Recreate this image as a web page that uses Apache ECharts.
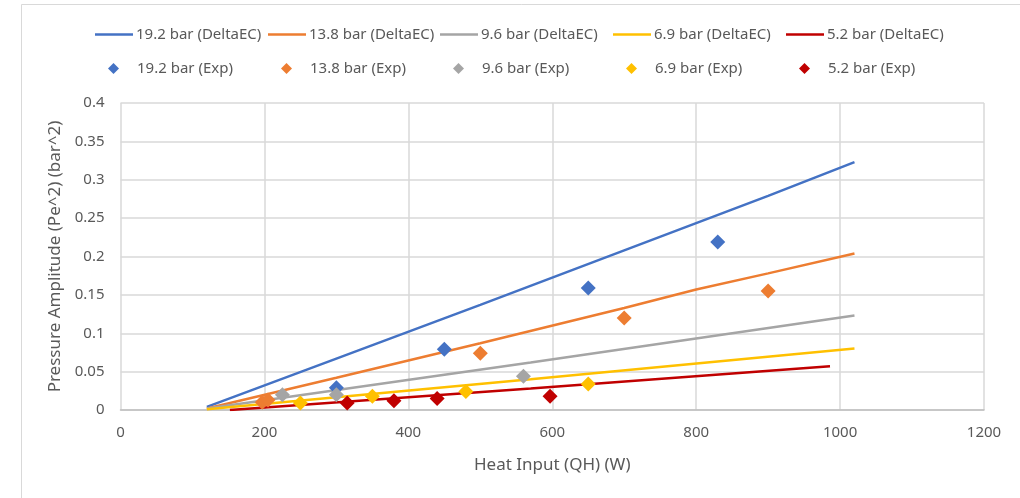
<!DOCTYPE html>
<html>
<head>
<meta charset="utf-8">
<script src="https://cdn.jsdelivr.net/npm/echarts@6/dist/echarts.min.js"></script>
<style>
  html, body { margin: 0; padding: 0; background: #fff; }
  #chart { width: 1020px; height: 498px; }
</style>
</head>
<body>
<div id="chart"></div>
<script>
// Pressure amplitude vs heat input: DeltaEC model curves and experimental points
const seriesNames = ['19.2 bar', '13.8 bar', '9.6 bar', '6.9 bar', '5.2 bar'];
const colors = ['#4472C4', '#ED7D31', '#A5A5A5', '#FFC000', '#C00000'];

// DeltaEC predictions [heat input W, Pe^2 bar^2]
const delta192 = [[120, 0.004], [300, 0.067], [500, 0.137], [700, 0.208], [900, 0.279], [1020, 0.323]];
const delta138 = [[120, 0.002], [300, 0.042], [500, 0.087], [700, 0.133], [800, 0.157], [900, 0.178], [1020, 0.204]];
const delta96 = [[120, 0.002], [570, 0.062], [1020, 0.123]];
const delta69 = [[120, 0.001], [570, 0.040], [1020, 0.080]];
const delta52 = [[152, 0.000], [570, 0.028], [986, 0.057]];

// Experimental measurements
const exp192 = [[300, 0.029], [450, 0.079], [650, 0.159], [830, 0.219]];
const exp138 = [[197, 0.010], [205, 0.013], [500, 0.074], [700, 0.120], [900, 0.155]];
const exp96 = [[225, 0.020], [300, 0.020], [560, 0.044]];
const exp69 = [[250, 0.009], [350, 0.018], [480, 0.024], [650, 0.034]];
const exp52 = [[315, 0.009], [380, 0.012], [440, 0.015], [597, 0.018]];

const xTicks = { min: 0, max: 1200, interval: 200 };
const yTicks = { min: 0, max: 0.4, interval: 0.05 };

const deltaData = [delta192, delta138, delta96, delta69, delta52];
const expData = [exp192, exp138, exp96, exp69, exp52];

const FONT = 'Noto Sans';
const TEXT = '#595959';
// plain stroke used as the legend key for the model lines
const LINE_ICON = 'path://M0,0H38V2.5H0Z';

const series = [];
deltaData.forEach((d, i) => {
  series.push({
    name: seriesNames[i] + ' (DeltaEC)',
    type: 'line',
    data: d,
    showSymbol: false,
    symbol: 'none',
    lineStyle: { color: colors[i], width: 2.5 },
    itemStyle: { color: colors[i] },
    z: 2
  });
});
expData.forEach((d, i) => {
  series.push({
    name: seriesNames[i] + ' (Exp)',
    type: 'scatter',
    data: d,
    symbol: 'diamond',
    symbolSize: 15,
    itemStyle: { color: colors[i], opacity: 1 },
    z: 3
  });
});

// One legend per entry so both rows share the same column positions
const colX = [95, 268, 440, 613, 786];
const legends = [];
seriesNames.forEach((n, i) => {
  legends.push({
    left: colX[i], top: 27, padding: 0,
    itemWidth: 38, itemHeight: 14, itemGap: 0,
    data: [{ name: n + ' (DeltaEC)', icon: LINE_ICON }],
    textStyle: { fontFamily: FONT, fontSize: 15, color: TEXT, padding: [0, 0, 0, -2] },
    selectedMode: false
  });
  legends.push({
    left: colX[i] + 13, top: 61, padding: 0,
    itemWidth: 11, itemHeight: 11, itemGap: 0,
    data: [{ name: n + ' (Exp)', icon: 'diamond' }],
    textStyle: { fontFamily: FONT, fontSize: 15, color: TEXT, padding: [0, 0, 0, 13] },
    selectedMode: false
  });
});

const chart = echarts.init(document.getElementById('chart'), null, { renderer: 'canvas' });
chart.setOption({
  animation: false,
  backgroundColor: '#fff',
  graphic: [{
    type: 'rect',
    shape: { x: 21.5, y: 4.5, width: 1020, height: 520 },
    style: { fill: 'none', stroke: '#D9D9D9', lineWidth: 1 },
    silent: true
  }],
  legend: legends,
  grid: { left: 120.5, right: 36, top: 103, bottom: 88, containLabel: false },
  xAxis: {
    type: 'value',
    min: xTicks.min, max: xTicks.max, interval: xTicks.interval,
    name: 'Heat Input (QH) (W)',
    nameLocation: 'middle', nameGap: 47,
    nameTextStyle: { fontFamily: FONT, fontSize: 17, color: TEXT },
    axisLine: { show: true, lineStyle: { color: '#BFBFBF', width: 1.5 } },
    axisTick: { show: false },
    axisLabel: { fontFamily: FONT, fontSize: 15, color: TEXT, margin: 15, formatter: v => String(v) },
    splitLine: { show: true, lineStyle: { color: '#D9D9D9', width: 1.5 } }
  },
  yAxis: {
    type: 'value',
    min: yTicks.min, max: yTicks.max, interval: yTicks.interval,
    name: 'Pressure Amplitude (Pe^2) (bar^2)',
    nameLocation: 'middle', nameGap: 56, nameRotate: 90,
    nameTextStyle: { fontFamily: FONT, fontSize: 17, color: TEXT },
    axisLine: { show: false },
    axisTick: { show: false },
    axisLabel: { fontFamily: FONT, fontSize: 15, color: TEXT, margin: 16, formatter: v => String(+v.toFixed(2)) },
    splitLine: { show: true, lineStyle: { color: '#D9D9D9', width: 1.5 } }
  },
  series: series
});
</script>
</body>
</html>
